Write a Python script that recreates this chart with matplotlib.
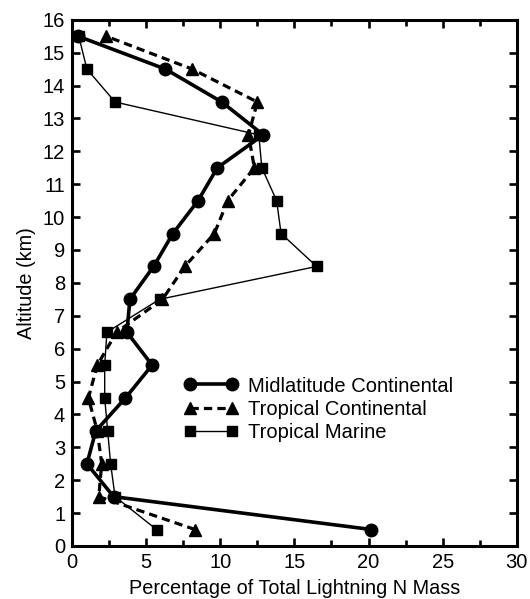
import matplotlib
matplotlib.use("Agg")
import matplotlib.pyplot as plt
from matplotlib.ticker import MultipleLocator

plt.rcParams['font.family'] = ['Liberation Sans', 'DejaVu Sans']

altitude = [0.5, 1.5, 2.5, 3.5, 4.5, 5.5, 6.5, 7.5, 8.5, 9.5, 10.5, 11.5, 12.5, 13.5, 14.5, 15.5]

midlat_cont = [20.2, 2.8, 1.0, 1.6, 3.6, 5.4, 3.7, 3.9, 5.5, 6.8, 8.5, 9.8, 12.9, 10.1, 6.3, 0.4]
trop_cont = [8.3, 1.8, 2.0, 1.7, 1.1, 1.7, 3.0, 6.1, 7.6, 9.6, 10.5, 12.3, 11.9, 12.5, 8.1, 2.3]
trop_marine = [5.7, 2.9, 2.6, 2.4, 2.2, 2.2, 2.35, 5.9, 16.5, 14.1, 13.8, 12.8, 12.6, 2.9, 1.0, 0.45]

labels = ["Midlatitude Continental", "Tropical Continental", "Tropical Marine"]

fig = plt.figure(figsize=(5.30, 5.99), dpi=100)
ax = fig.add_axes([0.136, 0.0885, 0.839, 0.8785])

ax.plot(midlat_cont, altitude, '-', color='black', lw=2.6, marker='o', ms=9,
        label=labels[0], zorder=4)
ax.plot(trop_cont, altitude, '--', color='black', lw=2.3, marker='^', ms=9,
        dashes=(2.6, 1.6), label=labels[1], zorder=3)
ax.plot(trop_marine, altitude, '-', color='black', lw=1.0, marker='s', ms=7.5,
        label=labels[2], zorder=2)

ax.set_xlim(0, 30)
ax.set_ylim(0, 16)
ax.xaxis.set_major_locator(MultipleLocator(5))
ax.xaxis.set_minor_locator(MultipleLocator(2.5))
ax.yaxis.set_major_locator(MultipleLocator(1))

for s in ax.spines.values():
    s.set_linewidth(2.2)
ax.tick_params(which='both', direction='in', top=True, right=True, width=1.9,
               labelsize=14.5, pad=5)
ax.tick_params(which='major', length=6)
ax.tick_params(which='minor', length=4)

ax.set_xlabel("Percentage of Total Lightning N Mass", fontsize=14.3, labelpad=5)
ax.set_ylabel("Altitude (km)", fontsize=14.3, labelpad=5)

ax.legend(loc='upper left', bbox_to_anchor=(0.252, 0.322), frameon=False,
          fontsize=14.5, numpoints=2, handlelength=2.7, handletextpad=0.45,
          labelspacing=0.22, borderpad=0, borderaxespad=0)

fig.savefig("out.png", dpi=100)
